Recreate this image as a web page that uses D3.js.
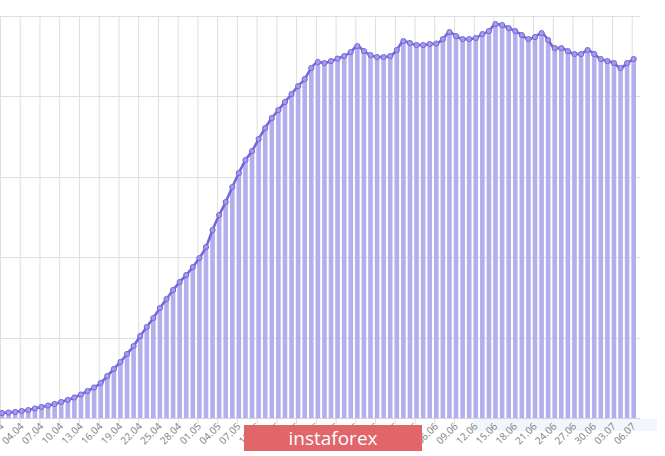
<!DOCTYPE html>
<html>
<head>
<meta charset="utf-8">
<script src="https://cdn.jsdelivr.net/npm/d3@7"></script>
<style>
  body { margin: 0; background: #fff; }
  .tickLabel { font-family: "Open Sans", sans-serif; font-size: 10px; fill: #808080; }
</style>
</head>
<body>
<div id="chart"></div>
<script>
// day labels, 01.04 .. 06.07
var startDate = new Date(2020, 3, 1);
var dayCount = 97;

// values (grid step = 1000)
var values = [
  62, 68, 75, 87, 99, 118, 137, 155, 174, 199,
  224, 255, 292, 335, 379, 435, 522, 609, 696, 795,
  894, 1018, 1130, 1242, 1366, 1478, 1590, 1689, 1776, 1875,
  1987, 2124, 2335, 2521, 2683, 2869, 3043, 3204, 3316, 3465,
  3602, 3726, 3825, 3925, 4024, 4123, 4210, 4347, 4422, 4409,
  4434, 4465, 4496, 4546, 4620, 4558, 4508, 4484, 4484, 4496,
  4571, 4682, 4658, 4633, 4633, 4645, 4651, 4707, 4794, 4744,
  4707, 4707, 4720, 4769, 4807, 4893, 4881, 4844, 4807, 4757,
  4707, 4732, 4782, 4695, 4595, 4595, 4558, 4521, 4521, 4571,
  4521, 4459, 4434, 4409, 4347, 4409, 4459
];

var yTicks = [0, 1000, 2000, 3000, 4000, 5000];

var fmt = d3.timeFormat("%d.%m");
var days = d3.range(dayCount).map(function(i) {
  return d3.timeDay.offset(startDate, i);
});
var tickDays = days.filter(function(d, i) { return i % 3 === 0; });

var svgWidth = 665;
var svgHeight = 456;

var svg = d3.select("#chart")
  .append("svg")
  .attr("width", svgWidth)
  .attr("height", svgHeight);

// Scales
// ==============================
var xScale = d3.scaleTime()
  .domain([days[0], days[dayCount - 1]])
  .range([0.5, 632.2]);

var yScale = d3.scaleLinear()
  .domain([0, 5000])
  .range([418, 15.5]);

var barOffset = 1.5;
var barWidth = 4.6;

// Grid
// ==============================
svg.append("g")
  .selectAll("line")
  .data(yTicks)
  .enter()
  .append("line")
  .attr("x1", 0)
  .attr("x2", 640)
  .attr("y1", d => Math.round(yScale(d)) + 0.5)
  .attr("y2", d => Math.round(yScale(d)) + 0.5)
  .attr("stroke", "#e0e0e0")
  .attr("stroke-width", 1);

svg.append("g")
  .selectAll("line")
  .data(tickDays)
  .enter()
  .append("line")
  .attr("x1", d => xScale(d))
  .attr("x2", d => xScale(d))
  .attr("y1", yScale(5000))
  .attr("y2", 424)
  .attr("stroke", "#dedede")
  .attr("stroke-width", 1);

// Bars
// ==============================
svg.append("g")
  .selectAll("rect")
  .data(values)
  .enter()
  .append("rect")
  .attr("x", (d, i) => xScale(days[i]) + barOffset - barWidth / 2)
  .attr("y", d => yScale(d))
  .attr("width", barWidth)
  .attr("height", d => yScale(0) - yScale(d))
  .attr("fill", "#b4aeec");

// x axis baseline
svg.append("line")
  .attr("x1", 0)
  .attr("x2", 640)
  .attr("y1", 418.5)
  .attr("y2", 418.5)
  .attr("stroke", "#cfd3e6");

// Line + markers
// ==============================
var line = d3.line()
  .x((d, i) => xScale(days[i]) + barOffset)
  .y(d => yScale(d))
  .curve(d3.curveMonotoneX);

svg.append("path")
  .datum(values)
  .attr("d", line)
  .attr("fill", "none")
  .attr("stroke", "#7467da")
  .attr("stroke-width", 2.6);

svg.append("g")
  .selectAll("circle")
  .data(values)
  .enter()
  .append("circle")
  .attr("cx", (d, i) => xScale(days[i]) + barOffset)
  .attr("cy", d => yScale(d))
  .attr("r", 2.6)
  .attr("fill", "#a49bea")
  .attr("stroke", "#7467da")
  .attr("stroke-width", 1);

// faint watermark behind the labels
svg.append("rect")
  .attr("x", 473)
  .attr("y", 419)
  .attr("width", 184)
  .attr("height", 12)
  .attr("fill", "#f1f6fc");

// Tick labels
// ==============================
svg.append("g")
  .selectAll("text")
  .data(tickDays)
  .enter()
  .append("text")
  .attr("class", "tickLabel")
  .attr("text-anchor", "end")
  .attr("transform", d => `translate(${xScale(d) + 4}, ${427}) rotate(-45)`)
  .text(d => fmt(d));

// instaforex box
// ==============================
svg.append("rect")
  .attr("x", 244)
  .attr("y", 425)
  .attr("width", 178)
  .attr("height", 26)
  .attr("fill", "#e0666a");

svg.append("text")
  .attr("x", 333)
  .attr("y", 445)
  .attr("text-anchor", "middle")
  .attr("fill", "#fff")
  .attr("font-family", "Open Sans, sans-serif")
  .attr("font-size", "19px")
  .text("instaforex");
</script>
</body>
</html>
